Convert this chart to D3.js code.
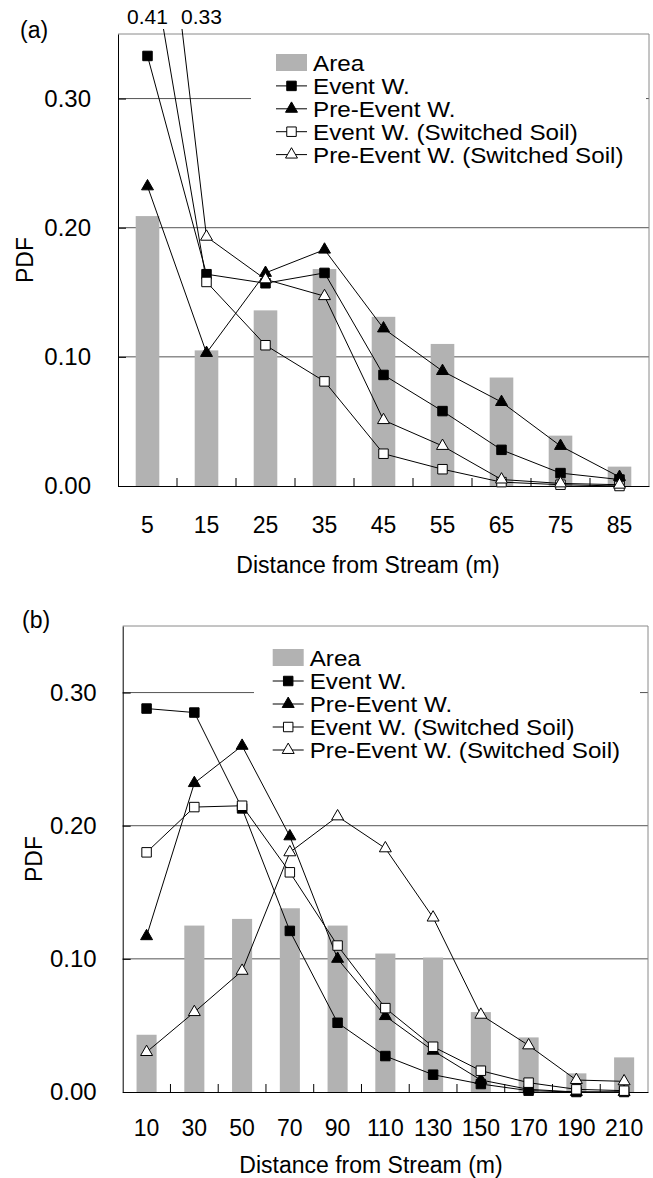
<!DOCTYPE html>
<html>
<head>
<meta charset="utf-8">
<script src="https://cdn.jsdelivr.net/npm/d3@7"></script>
<style>
body { margin: 0; background: #fff; }
svg { display: block; font-family: "Liberation Sans", Arial, sans-serif; }
</style>
</head>
<body>
<svg></svg>
<script>
var seriesNames = ["Event W.", "Pre-Event W.", "Event W. (Switched Soil)", "Pre-Event W. (Switched Soil)"];
var seriesSymbols = ["square", "triangle", "square", "triangle"];
var seriesFilled = [true, true, false, false];
var yTicks = [0, 0.1, 0.2, 0.3];

// panel (a)
var distA = ["5", "15", "25", "35", "45", "55", "65", "75", "85"];
var areaA = [0.209, 0.105, 0.136, 0.168, 0.131, 0.110, 0.084, 0.039, 0.015];
var eventA = [0.333, 0.164, 0.157, 0.165, 0.086, 0.058, 0.028, 0.010, 0.005];
var preEventA = [0.232, 0.103, 0.165, 0.183, 0.122, 0.089, 0.065, 0.031, 0.007];
var eventSwA = [0.41, 0.158, 0.109, 0.081, 0.025, 0.013, 0.003, 0.001, 0.000];
var preEventSwA = [0.33, 0.193, 0.160, 0.147, 0.051, 0.031, 0.005, 0.002, 0.001];
var offScaleA = [2, 3]; // first point of these series is drawn as a label above the plot

// panel (b)
var distB = ["10", "30", "50", "70", "90", "110", "130", "150", "170", "190", "210"];
var areaB = [0.043, 0.125, 0.130, 0.138, 0.125, 0.104, 0.101, 0.060, 0.041, 0.014, 0.026];
var eventB = [0.288, 0.285, 0.213, 0.121, 0.052, 0.027, 0.013, 0.006, 0.001, 0.000, 0.000];
var preEventB = [0.117, 0.232, 0.260, 0.192, 0.100, 0.057, 0.031, 0.009, 0.002, 0.000, 0.000];
var eventSwB = [0.180, 0.214, 0.215, 0.165, 0.110, 0.063, 0.034, 0.016, 0.007, 0.002, 0.001];
var preEventSwB = [0.030, 0.060, 0.091, 0.180, 0.207, 0.183, 0.131, 0.058, 0.035, 0.009, 0.008];

var svg = d3.select("svg").attr("width", 653).attr("height", 1178);
var legendFont = 22, yTickFont = 24, xTickFont = 23, titleFont = 23;

var symbolGen = {
    square: d3.symbol().type(d3.symbolSquare).size(90),
    triangle: d3.symbol().type(d3.symbolTriangle).size(62)
};

function drawPanel(p) {
    var g = svg.append("g");
    var x = d3.scaleBand().domain(p.cats).range([p.left, p.right]);
    var xBar = d3.scaleBand().domain(p.cats).range([p.left, p.right])
        .paddingInner(p.barPad).paddingOuter(p.barPad / 2);
    var y = d3.scaleLinear().domain([0, 0.35]).range([p.bottom, p.top]);
    var cx = function(d) { return x(d) + x.bandwidth() / 2; };

    // gridlines
    g.selectAll(".grid").data(yTicks.slice(1)).join("line")
        .attr("x1", p.left).attr("x2", p.right)
        .attr("y1", d => y(d)).attr("y2", d => y(d))
        .attr("stroke", "#555").attr("stroke-width", 1);

    // top / right frame
    g.append("path")
        .attr("d", "M" + p.left + "," + p.top + "H" + p.right + "V" + p.bottom)
        .attr("fill", "none").attr("stroke", "#8a8a8a");

    // area bars
    g.selectAll(".bar").data(p.area).join("rect")
        .attr("x", (d, i) => xBar(p.cats[i]))
        .attr("width", xBar.bandwidth())
        .attr("y", d => y(d))
        .attr("height", d => y(0) - y(d))
        .attr("fill", "#b2b2b2");

    // legend background hides the gridline under it
    g.append("rect")
        .attr("x", p.legBg[0]).attr("width", p.legBg[1] - p.legBg[0])
        .attr("y", p.top + 6).attr("height", p.legBase + 4 * p.legStep - p.top + 8)
        .attr("fill", "#fff");

    // axes
    var yAxis = g.append("g").attr("transform", "translate(" + p.left + ",0)")
        .call(d3.axisLeft(y).tickValues(yTicks).tickFormat(d3.format(".2f"))
            .tickSizeInner(-8).tickSizeOuter(0).tickPadding(p.yPad));
    var xAxis = g.append("g").attr("transform", "translate(0," + p.bottom + ")")
        .call(d3.axisBottom(x).tickSize(0).tickPadding(p.xPad));
    [yAxis, xAxis].forEach(function(a) {
        a.select(".domain").attr("stroke", "#000");
        a.selectAll(".tick line").attr("stroke", "#000");
        a.selectAll("text").attr("font-family", null).attr("fill", "#000");
    });
    yAxis.selectAll("text").attr("font-size", yTickFont);
    xAxis.selectAll("text").attr("font-size", xTickFont);

    // category boundary ticks
    g.selectAll(".xtick").data(p.cats.slice(1)).join("line")
        .attr("x1", d => x(d)).attr("x2", d => x(d))
        .attr("y1", p.bottom).attr("y2", p.bottom - 8)
        .attr("stroke", "#000");

    // series lines and markers
    var line = d3.line()
        .defined((d, i) => !(p.offScale.includes(d.s) && i === 0))
        .x(d => cx(d.c)).y(d => y(d.v));

    p.series.forEach(function(vals, s) {
        var pts = vals.map((v, i) => ({ c: p.cats[i], v: v, s: s }));
        g.append("path").datum(pts).attr("d", line)
            .attr("fill", "none").attr("stroke", "#000").attr("stroke-width", 1);

        var k = p.offScale.indexOf(s);
        if (k >= 0) {
            var lx = cx(p.cats[0]) + k * 54;
            g.append("text")
                .attr("x", lx).attr("y", p.top - 10)
                .attr("text-anchor", "middle").attr("font-size", 21)
                .text(d3.format(".2f")(vals[0]));
            var ax = lx + (k === 0 ? 16 : -19.5);
            g.append("line")
                .attr("x1", ax).attr("y1", p.top - 5)
                .attr("x2", cx(p.cats[1])).attr("y2", y(vals[1]))
                .attr("stroke", "#000");
        }

        g.selectAll(null).data(pts.filter((d, i) => !(k >= 0 && i === 0))).join("path")
            .attr("transform", d => "translate(" + cx(d.c) + "," + y(d.v) + ")")
            .attr("d", symbolGen[seriesSymbols[s]])
            .attr("fill", seriesFilled[s] ? "#000" : "#fff")
            .attr("stroke", "#000").attr("stroke-width", 1);
    });

    // legend (text slightly stretched horizontally, as in the original)
    var leg = g.append("g");
    var legText = function(txt, by) {
        leg.append("text")
            .attr("transform", "translate(" + (p.legX + 37) + "," + by + ") scale(1.1,1)")
            .attr("font-size", legendFont).text(txt);
    };
    leg.append("rect")
        .attr("x", p.legX).attr("y", p.legBase - 17)
        .attr("width", 31).attr("height", 17).attr("fill", "#b2b2b2");
    legText("Area", p.legBase);
    seriesNames.forEach(function(name, s) {
        var by = p.legBase + (s + 1) * p.legStep;
        leg.append("line")
            .attr("x1", p.legX).attr("x2", p.legX + 31)
            .attr("y1", by - 8).attr("y2", by - 8).attr("stroke", "#000");
        leg.append("path")
            .attr("transform", "translate(" + (p.legX + 15.5) + "," + (by - 8) + ")")
            .attr("d", symbolGen[seriesSymbols[s]])
            .attr("fill", seriesFilled[s] ? "#000" : "#fff").attr("stroke", "#000");
        legText(name, by);
    });

    // titles
    svg.append("text").attr("x", p.tagX).attr("y", p.tagY)
        .attr("font-size", titleFont).text(p.tag);
    svg.append("text")
        .attr("transform", "translate(" + p.pdfX + "," + ((p.top + p.bottom) / 2) + ") rotate(-90)")
        .attr("text-anchor", "middle").attr("font-size", titleFont).text("PDF");
    svg.append("text").attr("x", p.titleX).attr("y", p.titleY)
        .attr("text-anchor", "middle").attr("font-size", titleFont)
        .text("Distance from Stream (m)");
}

drawPanel({
    tag: "(a)", tagX: 20, tagY: 38,
    cats: distA, area: areaA,
    series: [eventA, preEventA, eventSwA, preEventSwA],
    offScale: offScaleA,
    left: 118, right: 649, top: 34, bottom: 486,
    barPad: 0.6, yPad: 27, xPad: 31,
    legX: 276, legBase: 71, legStep: 22.9, legBg: [251, 646],
    pdfX: 32.5, titleX: 368, titleY: 573
});

drawPanel({
    tag: "(b)", tagX: 22, tagY: 628,
    cats: distB, area: areaB,
    series: [eventB, preEventB, eventSwB, preEventSwB],
    offScale: [],
    left: 122.7, right: 648, top: 626, bottom: 1092,
    barPad: 0.58, yPad: 26, xPad: 27.5,
    legX: 272.7, legBase: 666, legStep: 23, legBg: [254, 640],
    pdfX: 41.5, titleX: 371, titleY: 1173
});
</script>
</body>
</html>
